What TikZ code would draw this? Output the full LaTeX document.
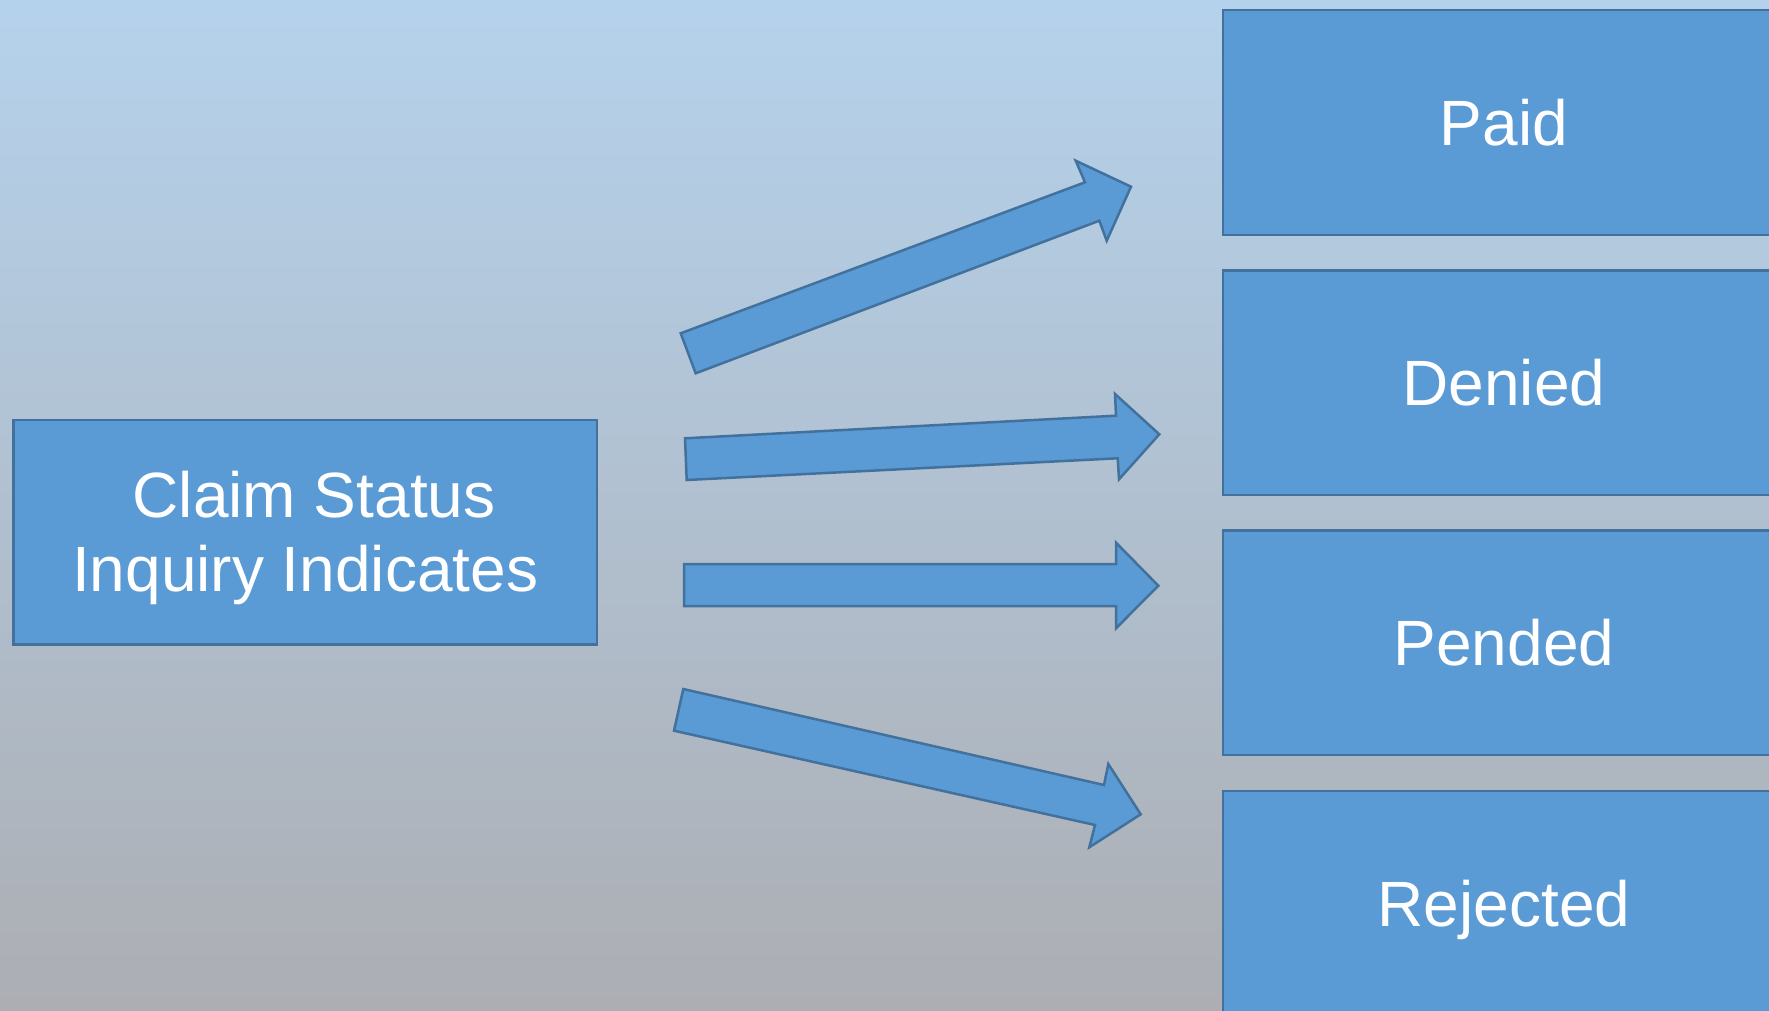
\documentclass[tikz,border=0pt]{standalone}
\usepackage{fontspec}
\setmainfont{Liberation Sans}
\definecolor{boxfill}{RGB}{91,155,213}
\definecolor{boxline}{RGB}{65,113,156}
\definecolor{bgtop}{RGB}{181,210,236}
\definecolor{bgbot}{RGB}{172,174,179}
\tikzset{
  box/.style={draw=boxline, fill=boxfill, line width=2.5pt, text=white,
    font=\fontsize{64}{74.5}\selectfont, align=center, inner sep=0pt},
  boxtext/.style={text=white, font=\fontsize{64}{74.5}\selectfont, align=center, inner sep=0pt},
  statusbox/.style={box, minimum width=562pt, minimum height=224.5pt,
    text height=46pt, text depth=0pt},
  blockarrow/.style={draw=boxline, fill=boxfill, line width=2.5pt, line join=miter}
}
\begin{document}
\begin{tikzpicture}[x=1pt, y=-1pt]
\useasboundingbox (0,0) rectangle (1769,1011);
\clip (0,0) rectangle (1769,1011);
\shade[top color=bgtop, bottom color=bgbot] (0,0) rectangle (1769,1011);

% source box
\node[box, minimum width=583.3pt, minimum height=224.5pt] (src) at (305.2,532) {};
\node[boxtext] (srctext) at (305.2,537.8) {\hspace*{17.8pt}Claim Status\\Inquiry Indicates};

% status boxes
\node[statusbox] (paid) at (1504,122.5) {Paid};
\node[statusbox] (denied) at (1504,382.5) {Denied};
\node[statusbox] (pended) at (1504,642.5) {Pended};
\node[statusbox] (rejected) at (1504,903.2) {Rejected};

% block arrows
\draw[blockarrow] (680.7,333.3) -- (1085,182.3) -- (1075.7,160.7) -- (1131,186.7)
  -- (1106.7,240.7) -- (1099.3,220.7) -- (695.7,373.3) -- cycle;
\draw[blockarrow] (685,438.3) -- (1116,415.7) -- (1115,394) -- (1159.3,434.3)
  -- (1119,479.3) -- (1117.7,458.3) -- (686.7,480) -- cycle;
\draw[blockarrow] (684,564) -- (1116,564) -- (1116,542.7) -- (1158.3,585.7)
  -- (1116,628.3) -- (1116,606) -- (684,606) -- cycle;
\draw[blockarrow] (683.3,689) -- (1104,785) -- (1108.3,764) -- (1140.7,814.3)
  -- (1089.3,847.3) -- (1095,825) -- (674,730.7) -- cycle;
\end{tikzpicture}
\end{document}
